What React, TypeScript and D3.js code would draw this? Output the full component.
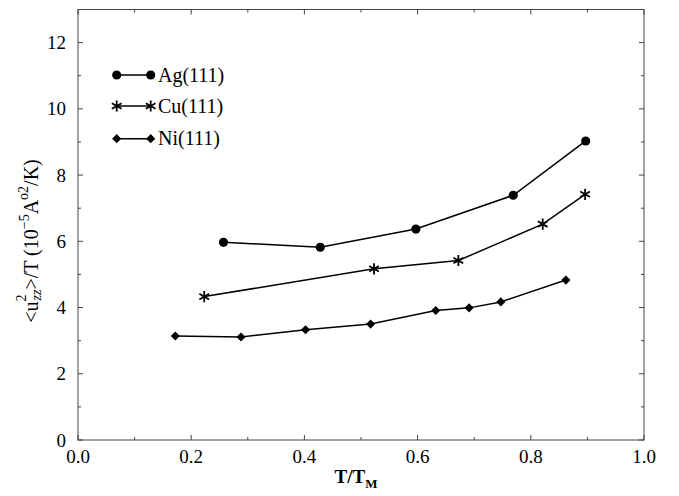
import React from 'react';
import { scaleLinear, line, symbol, symbolCircle, symbolSquare, symbolAsterisk } from 'd3';

// T/T_M values and <u^2_zz>/T values
const agX = [0.257, 0.428, 0.597, 0.769, 0.897];
const agY = [5.97, 5.82, 6.37, 7.39, 9.03];
const cuX = [0.223, 0.523, 0.672, 0.821, 0.896];
const cuY = [4.33, 5.17, 5.42, 6.52, 7.42];
const niX = [0.172, 0.288, 0.402, 0.517, 0.632, 0.691, 0.747, 0.862];
const niY = [3.14, 3.11, 3.33, 3.5, 3.91, 3.99, 4.17, 4.83];

const xMajor = [0, 0.2, 0.4, 0.6, 0.8, 1.0];
const xMinor = [0.1, 0.3, 0.5, 0.7, 0.9];
const yMajor = [0, 2, 4, 6, 8, 10, 12];
const yMinor = [1, 3, 5, 7, 9, 11];

const seriesNames = ['Ag(111)', 'Cu(111)', 'Ni(111)'];

const W = 679, H = 496;
const left = 78, right = 644, top = 9.5, bottom = 440;
const font = '"Liberation Serif", "Times New Roman", serif';

const x = scaleLinear().domain([0, 1]).range([left, right]);
const y = scaleLinear().domain([0, 13]).range([bottom, top]);

const pathFn = line<[number, number]>()
  .x(d => x(d[0]))
  .y(d => y(d[1]));

const circlePath = symbol(symbolCircle, 66)();
const diamondPath = symbol(symbolSquare, 42)();
const starPath = symbol(symbolAsterisk, 88)();

function Marker({ kind, cx, cy }: { kind: number; cx: number; cy: number }) {
  if (kind === 0) return <path d={circlePath!} transform={`translate(${cx},${cy})`} fill="#000" />;
  if (kind === 1)
    return <path d={starPath!} transform={`translate(${cx},${cy})`} fill="none" stroke="#000" strokeWidth={1.8} />;
  return <path d={diamondPath!} transform={`translate(${cx},${cy}) rotate(45)`} fill="#000" />;
}

export default function App() {
  const series = [
    agX.map((v, i) => [v, agY[i]] as [number, number]),
    cuX.map((v, i) => [v, cuY[i]] as [number, number]),
    niX.map((v, i) => [v, niY[i]] as [number, number]),
  ];
  const legendY = [75, 106, 138.7];
  const axisCol = '#444';

  return (
    <svg width={W} height={H} style={{ position: 'absolute', left: 0, top: 0, background: '#fff' }} fontFamily={font}>
      {/* frame */}
      <rect x={left} y={top} width={right - left} height={bottom - top} fill="none" stroke={axisCol} strokeWidth={1} />

      {/* x ticks, inward top and bottom */}
      {xMajor.map(t => (
        <g key={'xM' + t}>
          <line x1={x(t)} x2={x(t)} y1={bottom} y2={bottom - 5} stroke={axisCol} />
          <line x1={x(t)} x2={x(t)} y1={top} y2={top + 5} stroke={axisCol} />
          <text x={x(t)} y={463} fontSize={19} textAnchor="middle">{t.toFixed(1)}</text>
        </g>
      ))}
      {xMinor.map(t => (
        <g key={'xm' + t}>
          <line x1={x(t)} x2={x(t)} y1={bottom} y2={bottom - 3} stroke={axisCol} />
          <line x1={x(t)} x2={x(t)} y1={top} y2={top + 3} stroke={axisCol} />
        </g>
      ))}

      {/* y ticks, inward left and right */}
      {yMajor.map(t => (
        <g key={'yM' + t}>
          <line x1={left} x2={left + 5} y1={y(t)} y2={y(t)} stroke={axisCol} />
          <line x1={right} x2={right - 5} y1={y(t)} y2={y(t)} stroke={axisCol} />
          <text x={66} y={y(t) + 6.5} fontSize={19} textAnchor="end">{t}</text>
        </g>
      ))}
      {yMinor.map(t => (
        <g key={'ym' + t}>
          <line x1={left} x2={left + 3} y1={y(t)} y2={y(t)} stroke={axisCol} />
          <line x1={right} x2={right - 3} y1={y(t)} y2={y(t)} stroke={axisCol} />
        </g>
      ))}

      {/* x title */}
      <text x={356} y={483} fontSize={19} fontWeight="bold" textAnchor="middle">
        T/T<tspan fontSize={13} dy={5}>M</tspan>
      </text>

      {/* y title */}
      <text transform="translate(38,241) rotate(-90)" fontSize={20} textAnchor="middle">
        &lt;u<tspan fontSize={14} dy={-12}>2</tspan>
        <tspan fontSize={14} fontStyle="italic" dx={-6} dy={15}>zz</tspan>
        <tspan dy={-3}>&gt;/T (10</tspan>
        <tspan fontSize={14} dy={-9}>−5</tspan>
        <tspan dy={9}>A</tspan>
        <tspan fontSize={14} dy={-10}>o2</tspan>
        <tspan dy={10}>/K)</tspan>
      </text>

      {/* series */}
      {series.map((s, k) => (
        <g key={'s' + k}>
          <path d={pathFn(s)!} fill="none" stroke="#000" strokeWidth={1.5} />
          {s.map((p, i) => (
            <Marker key={i} kind={k} cx={x(p[0])} cy={y(p[1])} />
          ))}
        </g>
      ))}

      {/* legend */}
      {seriesNames.map((name, k) => (
        <g key={'l' + k}>
          <line x1={116.7} x2={150.7} y1={legendY[k]} y2={legendY[k]} stroke="#000" strokeWidth={1.5} />
          <Marker kind={k} cx={116.7} cy={legendY[k]} />
          <Marker kind={k} cx={150.7} cy={legendY[k]} />
          <text x={158} y={legendY[k] + 6.5} fontSize={20}>{name}</text>
        </g>
      ))}
    </svg>
  );
}
